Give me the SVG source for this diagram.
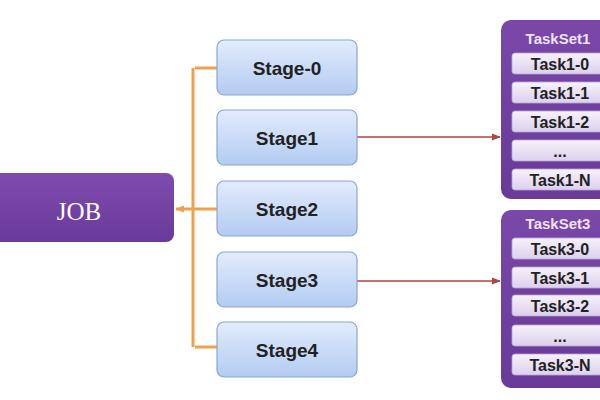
<svg xmlns="http://www.w3.org/2000/svg" width="600" height="400" viewBox="0 0 600 400">
<defs>
<linearGradient id="gJob" x1="0" y1="0" x2="0" y2="1"><stop offset="0" stop-color="#7d4cae"/><stop offset="1" stop-color="#6a3a9a"/></linearGradient>
<linearGradient id="gStage" x1="0" y1="0" x2="0" y2="1"><stop offset="0" stop-color="#e2ecfc"/><stop offset="1" stop-color="#b3cbf2"/></linearGradient>
<linearGradient id="gSet" x1="0" y1="0" x2="0" y2="1"><stop offset="0" stop-color="#7a48a8"/><stop offset="1" stop-color="#6a3a98"/></linearGradient>
<linearGradient id="gTask" x1="0" y1="0" x2="0" y2="1"><stop offset="0" stop-color="#f6f2fb"/><stop offset="1" stop-color="#dcd0ec"/></linearGradient>
<marker id="arr" viewBox="0 0 10 10" refX="9" refY="5" markerWidth="6" markerHeight="6" orient="auto"><path d="M0,1 L10,5 L0,9 z" fill="#b2453f"/></marker>
<marker id="arrO" viewBox="0 0 10 10" refX="9" refY="5" markerWidth="3" markerHeight="3" orient="auto"><path d="M0,1 L10,5 L0,9 z" fill="#f0a04c"/></marker>
</defs>
<style>
.stage rect{fill:url(#gStage);stroke:#8aa6d2;stroke-width:1.2}
.stage text{font-family:"Liberation Sans",Arial,sans-serif;font-weight:bold;font-size:19px;fill:#222;text-anchor:middle}
.set>rect.outer{fill:url(#gSet)}
.set text.title{font-family:"Liberation Sans",Arial,sans-serif;font-weight:bold;font-size:15px;fill:#ece4f6;text-anchor:middle}
.set rect.task{fill:url(#gTask);stroke:#b9a6d6;stroke-width:0.8}
.set text.t{font-family:"Liberation Sans",Arial,sans-serif;font-weight:bold;font-size:16px;fill:#222;text-anchor:middle}
.orange{fill:none;stroke:#f0a04c;stroke-width:3}
.red{fill:none;stroke:#b2453f;stroke-width:1.5}
</style>
<rect width="600" height="400" fill="#ffffff"/>
<g id="connectors">
<path class="orange" d="M193,68 L193,347"/>
<path class="orange" d="M195,68 L217,68"/>
<path class="orange" d="M195,347 L217,347"/>
<path class="orange" d="M193,209 L217,209"/>
<path class="orange" d="M193,209 L176,209" marker-end="url(#arrO)"/>
<path class="red" d="M357,137 L500,137" marker-end="url(#arr)"/>
<path class="red" d="M357,281 L500,281" marker-end="url(#arr)"/>
</g>
<g id="job">
<rect x="-12" y="173" width="186" height="69" rx="8" fill="url(#gJob)"/>
<text x="79" y="220" font-family="Liberation Serif,'Times New Roman',serif" font-size="25" fill="#ffffff" text-anchor="middle">JOB</text>
</g>
<g id="stage0" class="stage"><rect x="217" y="40" width="140" height="55" rx="7"/><text x="287" y="75">Stage-0</text></g>
<g id="stage1" class="stage"><rect x="217" y="110" width="140" height="55" rx="7"/><text x="287" y="145">Stage1</text></g>
<g id="stage2" class="stage"><rect x="217" y="181" width="140" height="55" rx="7"/><text x="287" y="216">Stage2</text></g>
<g id="stage3" class="stage"><rect x="217" y="252" width="140" height="55" rx="7"/><text x="287" y="287">Stage3</text></g>
<g id="stage4" class="stage"><rect x="217" y="322" width="140" height="55" rx="7"/><text x="287" y="357">Stage4</text></g>
<g id="taskset1" class="set">
<rect class="outer" x="501" y="20" width="120" height="179" rx="10"/>
<text class="title" x="558" y="44">TaskSet1</text>
<rect class="task" x="512" y="53" width="98" height="21" rx="3"/><text class="t" x="560" y="70">Task1-0</text>
<rect class="task" x="512" y="82" width="98" height="21" rx="3"/><text class="t" x="560" y="99">Task1-1</text>
<rect class="task" x="512" y="111" width="98" height="21" rx="3"/><text class="t" x="560" y="128">Task1-2</text>
<rect class="task" x="512" y="140" width="98" height="21" rx="3"/><text class="t" x="560" y="157">...</text>
<rect class="task" x="512" y="169" width="98" height="21" rx="3"/><text class="t" x="560" y="186">Task1-N</text>
</g>
<g id="taskset3" class="set">
<rect class="outer" x="501" y="210" width="120" height="178" rx="10"/>
<text class="title" x="558" y="229">TaskSet3</text>
<rect class="task" x="512" y="238" width="98" height="21" rx="3"/><text class="t" x="560" y="255">Task3-0</text>
<rect class="task" x="512" y="267" width="98" height="21" rx="3"/><text class="t" x="560" y="284">Task3-1</text>
<rect class="task" x="512" y="295" width="98" height="21" rx="3"/><text class="t" x="560" y="312">Task3-2</text>
<rect class="task" x="512" y="325" width="98" height="21" rx="3"/><text class="t" x="560" y="342">...</text>
<rect class="task" x="512" y="354" width="98" height="21" rx="3"/><text class="t" x="560" y="371">Task3-N</text>
</g>
</svg>
